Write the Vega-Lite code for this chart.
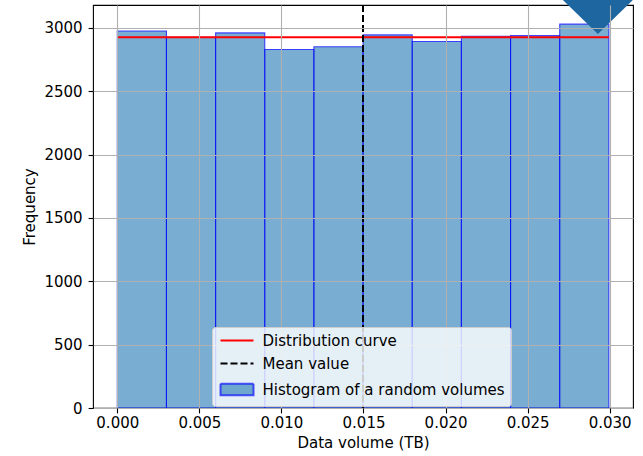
{
  "$schema": "https://vega.github.io/schema/vega-lite/v6.json",
  "width": 540,
  "height": 403,
  "autosize": "none",
  "padding": {"left": 93, "top": 5, "right": 10, "bottom": 48},
  "background": "white",
  "config": {
    "font": "DejaVu Sans",
    "view": {"stroke": "black", "strokeWidth": 1.1},
    "axis": {
      "labelFont": "DejaVu Sans", "labelFontSize": 15, "labelColor": "black",
      "titleFont": "DejaVu Sans", "titleFontSize": 15, "titleColor": "black", "titleFontWeight": "normal",
      "tickColor": "black", "tickSize": 4.9, "tickWidth": 1.1,
      "domain": false,
      "gridColor": "#b0b0b0", "gridWidth": 1.1,
      "zindex": 1
    },
    "legend": {
      "orient": "none", "legendX": 119, "legendY": 322, "direction": "vertical",
      "labelFont": "DejaVu Sans", "labelFontSize": 15, "labelColor": "black", "labelLimit": 400,
      "symbolSize": 100, "symbolStrokeWidth": 2, "symbolOffset": 11.5, "labelOffset": 18,
      "symbolOpacity": 1,
      "rowPadding": 7, "padding": 6,
      "fillColor": "rgba(255,255,255,0.8)", "strokeColor": "#cccccc", "cornerRadius": 3
    }
  },
  "datasets": {
    "hist": [
      {"bin_start": 0.0, "bin_end": 0.002995, "count": 2975},
      {"bin_start": 0.002995, "bin_end": 0.00599, "count": 2925},
      {"bin_start": 0.00599, "bin_end": 0.008985, "count": 2960},
      {"bin_start": 0.008985, "bin_end": 0.01198, "count": 2829},
      {"bin_start": 0.01198, "bin_end": 0.014975, "count": 2850},
      {"bin_start": 0.014975, "bin_end": 0.01797, "count": 2944},
      {"bin_start": 0.01797, "bin_end": 0.020965, "count": 2892},
      {"bin_start": 0.020965, "bin_end": 0.02396, "count": 2933},
      {"bin_start": 0.02396, "bin_end": 0.026955, "count": 2938},
      {"bin_start": 0.026955, "bin_end": 0.02995, "count": 3029}
    ],
    "curve": [
      {"x_start": 0.0, "x_end": 0.02995, "density": 2926}
    ],
    "mean": [
      {"mean": 0.01497}
    ],
    "series": [
      {"series": "Distribution curve"},
      {"series": "Mean value"},
      {"series": "Histogram of a random volumes"}
    ],
    "marker": [
      {"x": 0.02928, "y": 3085}
    ]
  },
  "layer": [
    {
      "data": {"name": "hist"},
      "mark": {"type": "rect", "fill": "#1f77b4", "fillOpacity": 0.6, "stroke": "blue", "strokeOpacity": 0.7, "strokeWidth": 1.1},
      "encoding": {
        "x": {
          "field": "bin_start", "type": "quantitative",
          "scale": {"domain": [-0.00148, 0.03142], "nice": false, "zero": false},
          "title": "Data volume (TB)",
          "axis": {
            "values": [0, 0.005, 0.01, 0.015, 0.02, 0.025, 0.03],
            "format": ".3f", "labelPadding": 3, "titlePadding": 5, "zindex": 1,
            "gridOpacity": {"condition": {"test": "abs(datum.value - 0.015) < 1e-9", "value": 0}, "value": 1}
          }
        },
        "x2": {"field": "bin_end"},
        "y": {
          "field": "count", "type": "quantitative",
          "scale": {"domain": [0, 3180], "nice": false},
          "title": "Frequency",
          "axis": {"values": [0, 500, 1000, 1500, 2000, 2500, 3000], "format": "d", "labelPadding": 6, "titlePadding": 6, "zindex": 1}
        },
        "y2": {"datum": 0}
      }
    },
    {
      "data": {"name": "curve"},
      "mark": {"type": "rule", "strokeWidth": 2, "color": "red"},
      "encoding": {
        "x": {"field": "x_start", "type": "quantitative"},
        "x2": {"field": "x_end"},
        "y": {"field": "density", "type": "quantitative"}
      }
    },
    {
      "data": {"name": "mean"},
      "mark": {"type": "rule", "strokeWidth": 2, "strokeDash": [7, 3], "color": "black"},
      "encoding": {
        "x": {"field": "mean", "type": "quantitative"}
      }
    },
    {
      "data": {"name": "marker"},
      "mark": {"type": "point", "shape": "M-1,-0.486L1,-0.486L0,0.486Z", "size": 4900, "filled": true, "color": "#1e66a0", "opacity": 1, "clip": false},
      "encoding": {
        "x": {"field": "x", "type": "quantitative"},
        "y": {"field": "y", "type": "quantitative"}
      }
    },
    {
      "data": {"name": "series"},
      "mark": {"type": "point", "opacity": 0},
      "encoding": {
        "shape": {
          "field": "series", "type": "nominal",
          "scale": {"domain": ["Distribution curve", "Mean value", "Histogram of a random volumes"], "range": ["M-3.3,0L3.3,0", "M-3.3,0L3.3,0", "M-3.3,-1.15L3.3,-1.15L3.3,1.15L-3.3,1.15Z"]},
          "legend": {"title": null, "zindex": 2}
        },
        "stroke": {
          "field": "series", "type": "nominal",
          "scale": {"domain": ["Distribution curve", "Mean value", "Histogram of a random volumes"], "range": ["red", "black", "rgba(0,0,255,0.65)"]},
          "legend": {"title": null, "zindex": 2}
        },
        "fill": {
          "field": "series", "type": "nominal",
          "scale": {"domain": ["Distribution curve", "Mean value", "Histogram of a random volumes"], "range": ["transparent", "transparent", "rgba(31,119,180,0.6)"]},
          "legend": {"title": null, "zindex": 2}
        },
        "strokeDash": {
          "field": "series", "type": "nominal",
          "scale": {"domain": ["Distribution curve", "Mean value", "Histogram of a random volumes"], "range": [[1, 0], [7, 3], [1, 0]]},
          "legend": {"title": null, "zindex": 2}
        }
      }
    }
  ]
}
